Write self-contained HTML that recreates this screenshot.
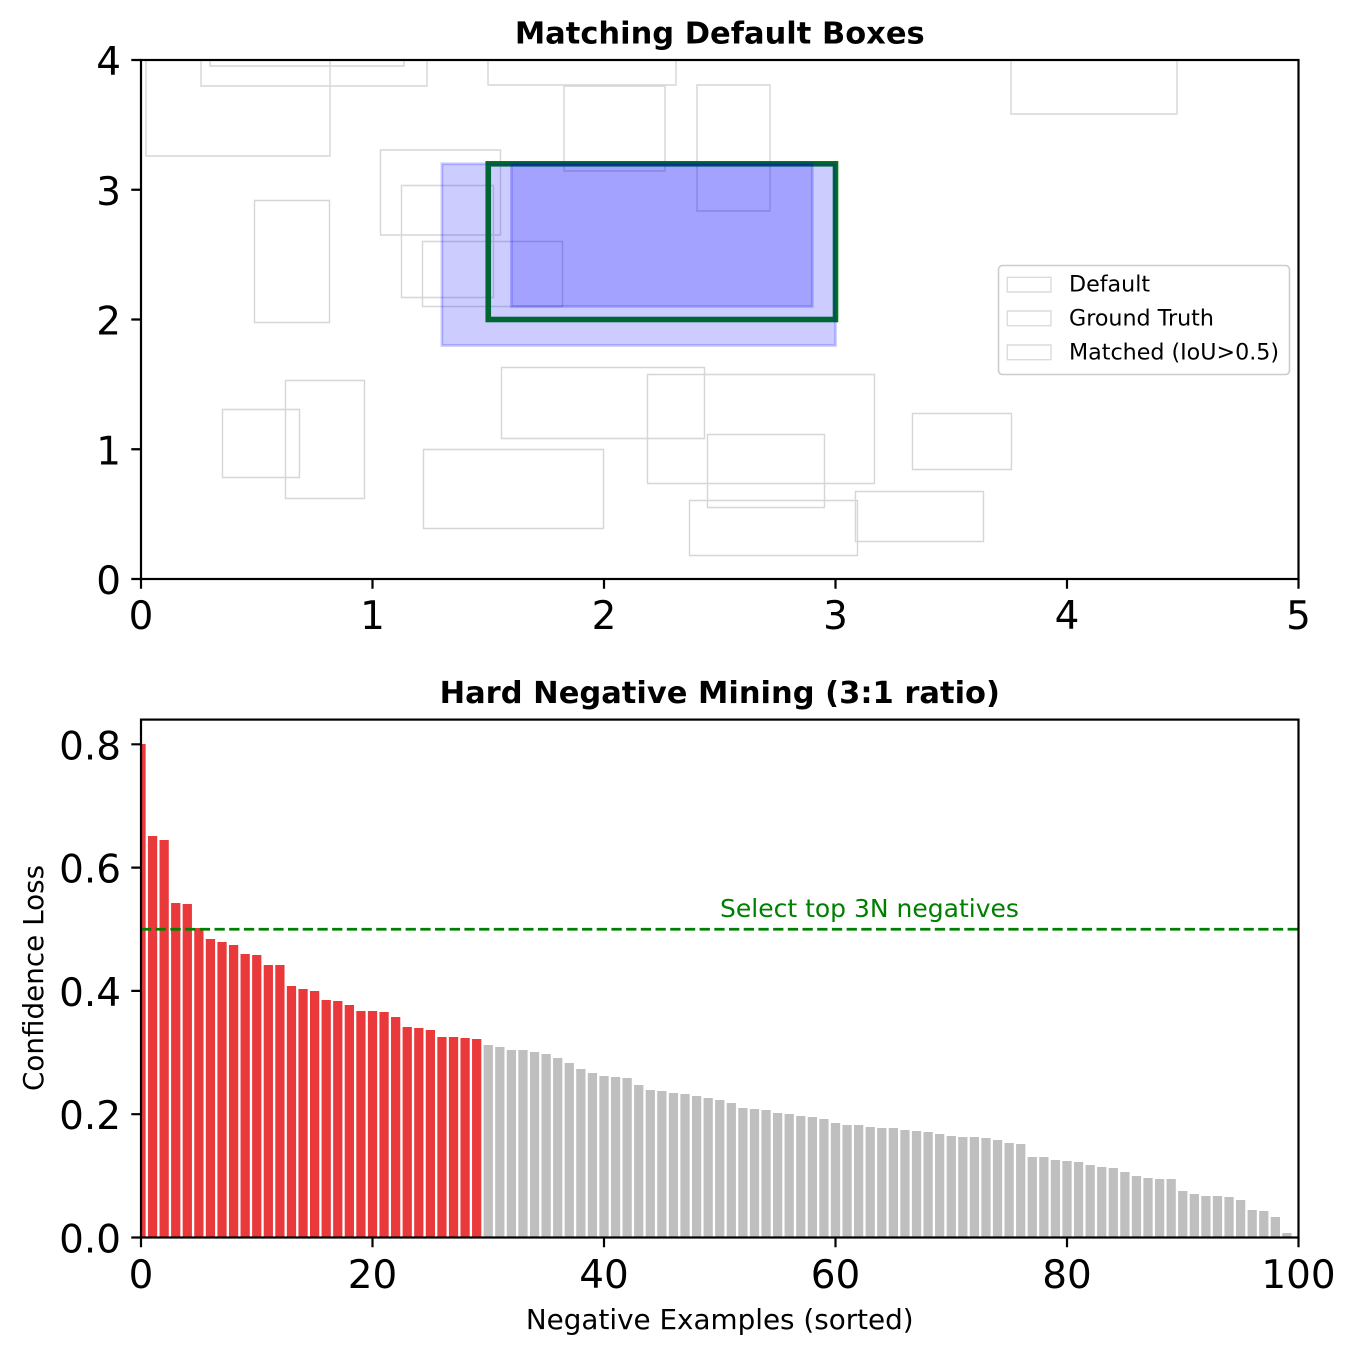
<!DOCTYPE html>
<html>
<head>
<meta charset="utf-8">
<style>
html,body{margin:0;padding:0;background:#fff;}
svg{display:block;font-family:"DejaVu Sans","Liberation Sans",sans-serif;}
</style>
</head>
<body>
<svg width="1355" height="1355" viewBox="0 0 1355 1355" xmlns="http://www.w3.org/2000/svg">
<defs>
<clipPath id="c1"><rect x="141" y="60" width="1157.5" height="519"/></clipPath>
<clipPath id="c2"><rect x="141" y="719.6" width="1157.5" height="517.9"/></clipPath>
</defs>
<rect width="1355" height="1355" fill="#fff"/>

<text x="719.75" y="43.3" text-anchor="middle" font-size="30.5" font-weight="bold">Matching Default Boxes</text>
<g clip-path="url(#c1)">
<path fill="none" stroke="#808080" stroke-opacity="0.32" stroke-width="1.4" d="M146 40h184v116h-184z M201 40h226v46h-226z M210 40h194v26h-194z M488 40h188v45h-188z M564 86h101v85h-101z M697 85h73v126h-73z M380.5 150h120v85h-120z M401.5 185.5h92v112h-92z M422.5 241.5h140v65h-140z M254.5 200.5h75v122h-75z M1011 40h166v74h-166z M222.5 409.5h77v68h-77z M285.5 380.5h79v118h-79z M423.5 449.5h180v79h-180z M501.5 367.5h203v71h-203z M647.5 374.5h227v109h-227z M707.5 434.5h117v73h-117z M689.5 500.5h168v55h-168z M855.5 491.5h128v50h-128z M912.5 413.5h99v56h-99z"/>
<rect x="488.25" y="163.8" width="347.25" height="155.7" fill="none" stroke="#008000" stroke-width="5.6"/>
<rect x="441.9" y="163.8" width="393.6" height="181.65" fill="#0000ff" fill-opacity="0.2" stroke="#0000ff" stroke-opacity="0.2" stroke-width="2.8"/>
<rect x="511.4" y="163.8" width="300.95" height="142.7" fill="#0000ff" fill-opacity="0.2" stroke="#0000ff" stroke-opacity="0.2" stroke-width="2.8"/>
</g>

<rect x="998.5" y="265.5" width="291" height="109" rx="4" fill="#fff" fill-opacity="0.8" stroke="#cccccc" stroke-width="1.6"/>
<path fill="#fff" stroke="#dcdcdc" stroke-width="1.4" d="M1007.3 277.3h43.7v14.7h-43.7z M1007.3 311h43.7v14.7h-43.7z M1007.3 345h43.7v14.7h-43.7z"/>
<text x="1069" y="291.7" font-size="22.2">Default</text>
<text x="1069" y="325.4" font-size="22.2">Ground Truth</text>
<text x="1069" y="359.3" font-size="22.2">Matched (IoU&gt;0.5)</text>

<rect x="141" y="60" width="1157.5" height="519" fill="none" stroke="#000" stroke-width="2.2"/>
<path stroke="#000" stroke-width="2.2" d="M141 579v9.7 M372.5 579v9.7 M604 579v9.7 M835.5 579v9.7 M1067 579v9.7 M1298.5 579v9.7 M141 579h-9.7 M141 449.25h-9.7 M141 319.5h-9.7 M141 189.75h-9.7 M141 60h-9.7"/>
<g font-size="38.9" text-anchor="middle">
<text x="141" y="629">0</text><text x="372.5" y="629">1</text><text x="604" y="629">2</text><text x="835.5" y="629">3</text><text x="1067" y="629">4</text><text x="1298.5" y="629">5</text>
</g>
<g font-size="38.9" text-anchor="end">
<text x="121" y="594">0</text><text x="121" y="464.25">1</text><text x="121" y="334.5">2</text><text x="121" y="204.75">3</text><text x="121" y="75">4</text>
</g>

<text x="719.75" y="703" text-anchor="middle" font-size="30.5" font-weight="bold">Hard Negative Mining (3:1 ratio)</text>
<g clip-path="url(#c2)">
<path fill="#e9393b" d="M136.37 1237.5 v-493.5h9.26V1237.5z m11.575 0 v-401.5h9.26V1237.5z m11.575 0 v-397.5h9.26V1237.5z m11.575 0 v-334.5h9.26V1237.5z m11.575 0 v-333.5h9.26V1237.5z m11.575 0 v-309.5h9.26V1237.5z m11.575 0 v-298.5h9.26V1237.5z m11.575 0 v-295.5h9.26V1237.5z m11.575 0 v-292.5h9.26V1237.5z m11.575 0 v-283.5h9.26V1237.5z m11.575 0 v-282.5h9.26V1237.5z m11.575 0 v-272.5h9.26V1237.5z m11.575 0 v-272.5h9.26V1237.5z m11.575 0 v-251.5h9.26V1237.5z m11.575 0 v-248.5h9.26V1237.5z m11.575 0 v-246.5h9.26V1237.5z m11.575 0 v-237.5h9.26V1237.5z m11.575 0 v-236.5h9.26V1237.5z m11.575 0 v-232.5h9.26V1237.5z m11.575 0 v-226.5h9.26V1237.5z m11.575 0 v-226.5h9.26V1237.5z m11.575 0 v-225.5h9.26V1237.5z m11.575 0 v-220.5h9.26V1237.5z m11.575 0 v-210.5h9.26V1237.5z m11.575 0 v-209.5h9.26V1237.5z m11.575 0 v-207.5h9.26V1237.5z m11.575 0 v-200.5h9.26V1237.5z m11.575 0 v-200.5h9.26V1237.5z m11.575 0 v-199.5h9.26V1237.5z m11.575 0 v-198.5h9.26V1237.5z"/>
<path fill="#bfbfbf" d="M483.62 1237.5 v-192.5h9.26V1237.5z m11.575 0 v-190.5h9.26V1237.5z m11.575 0 v-187.5h9.26V1237.5z m11.575 0 v-187.5h9.26V1237.5z m11.575 0 v-185.5h9.26V1237.5z m11.575 0 v-183.5h9.26V1237.5z m11.575 0 v-179.5h9.26V1237.5z m11.575 0 v-174.5h9.26V1237.5z m11.575 0 v-168.5h9.26V1237.5z m11.575 0 v-164.5h9.26V1237.5z m11.575 0 v-161.5h9.26V1237.5z m11.575 0 v-160.5h9.26V1237.5z m11.575 0 v-159.5h9.26V1237.5z m11.575 0 v-152.5h9.26V1237.5z m11.575 0 v-147.5h9.26V1237.5z m11.575 0 v-146.5h9.26V1237.5z m11.575 0 v-144.5h9.26V1237.5z m11.575 0 v-143.5h9.26V1237.5z m11.575 0 v-141.5h9.26V1237.5z m11.575 0 v-139.5h9.26V1237.5z m11.575 0 v-137.5h9.26V1237.5z m11.575 0 v-134.5h9.26V1237.5z m11.575 0 v-129.5h9.26V1237.5z m11.575 0 v-128.5h9.26V1237.5z m11.575 0 v-127.5h9.26V1237.5z m11.575 0 v-124.5h9.26V1237.5z m11.575 0 v-123.5h9.26V1237.5z m11.575 0 v-121.5h9.26V1237.5z m11.575 0 v-120.5h9.26V1237.5z m11.575 0 v-118.5h9.26V1237.5z m11.575 0 v-114.5h9.26V1237.5z m11.575 0 v-112.5h9.26V1237.5z m11.575 0 v-112.5h9.26V1237.5z m11.575 0 v-110.5h9.26V1237.5z m11.575 0 v-109.5h9.26V1237.5z m11.575 0 v-109.5h9.26V1237.5z m11.575 0 v-107.5h9.26V1237.5z m11.575 0 v-106.5h9.26V1237.5z m11.575 0 v-105.5h9.26V1237.5z m11.575 0 v-103.5h9.26V1237.5z m11.575 0 v-101.5h9.26V1237.5z m11.575 0 v-100.5h9.26V1237.5z m11.575 0 v-100.5h9.26V1237.5z m11.575 0 v-99.5h9.26V1237.5z m11.575 0 v-97.5h9.26V1237.5z m11.575 0 v-94.5h9.26V1237.5z m11.575 0 v-93.5h9.26V1237.5z m11.575 0 v-80.5h9.26V1237.5z m11.575 0 v-80.5h9.26V1237.5z m11.575 0 v-77.5h9.26V1237.5z m11.575 0 v-76.5h9.26V1237.5z m11.575 0 v-75.5h9.26V1237.5z m11.575 0 v-72.5h9.26V1237.5z m11.575 0 v-70.5h9.26V1237.5z m11.575 0 v-69.5h9.26V1237.5z m11.575 0 v-65.5h9.26V1237.5z m11.575 0 v-61.5h9.26V1237.5z m11.575 0 v-59.5h9.26V1237.5z m11.575 0 v-58.5h9.26V1237.5z m11.575 0 v-58.5h9.26V1237.5z m11.575 0 v-46.5h9.26V1237.5z m11.575 0 v-43.5h9.26V1237.5z m11.575 0 v-41.5h9.26V1237.5z m11.575 0 v-41.5h9.26V1237.5z m11.575 0 v-40.5h9.26V1237.5z m11.575 0 v-37.5h9.26V1237.5z m11.575 0 v-27.5h9.26V1237.5z m11.575 0 v-26.5h9.26V1237.5z m11.575 0 v-20.5h9.26V1237.5z m11.575 0 v-4.5h9.26V1237.5z"/>
<line x1="141" y1="929.25" x2="1298.5" y2="929.25" stroke="#008000" stroke-width="2.8" stroke-dasharray="10.3 4.4"/>
</g>
<text x="720" y="917" font-size="25" fill="#008000">Select top 3N negatives</text>

<rect x="141" y="719.6" width="1157.5" height="517.9" fill="none" stroke="#000" stroke-width="2.2"/>
<path stroke="#000" stroke-width="2.2" d="M141 1237.5v9.7 M372.5 1237.5v9.7 M604 1237.5v9.7 M835.5 1237.5v9.7 M1067 1237.5v9.7 M1298.5 1237.5v9.7 M141 1237.5h-9.7 M141 1114.2h-9.7 M141 990.9h-9.7 M141 867.6h-9.7 M141 744.3h-9.7"/>
<g font-size="38.9" text-anchor="middle">
<text x="141" y="1288">0</text><text x="372.5" y="1288">20</text><text x="604" y="1288">40</text><text x="835.5" y="1288">60</text><text x="1067" y="1288">80</text><text x="1298.5" y="1288">100</text>
</g>
<g font-size="38.9" text-anchor="end">
<text x="121" y="1252.5">0.0</text><text x="121" y="1129.2">0.2</text><text x="121" y="1005.9">0.4</text><text x="121" y="882.6">0.6</text><text x="121" y="759.3">0.8</text>
</g>
<text x="719.75" y="1329" text-anchor="middle" font-size="27.8">Negative Examples (sorted)</text>
<text transform="translate(43,978) rotate(-90)" text-anchor="middle" font-size="27.8">Confidence Loss</text>
</svg>
</body>
</html>
